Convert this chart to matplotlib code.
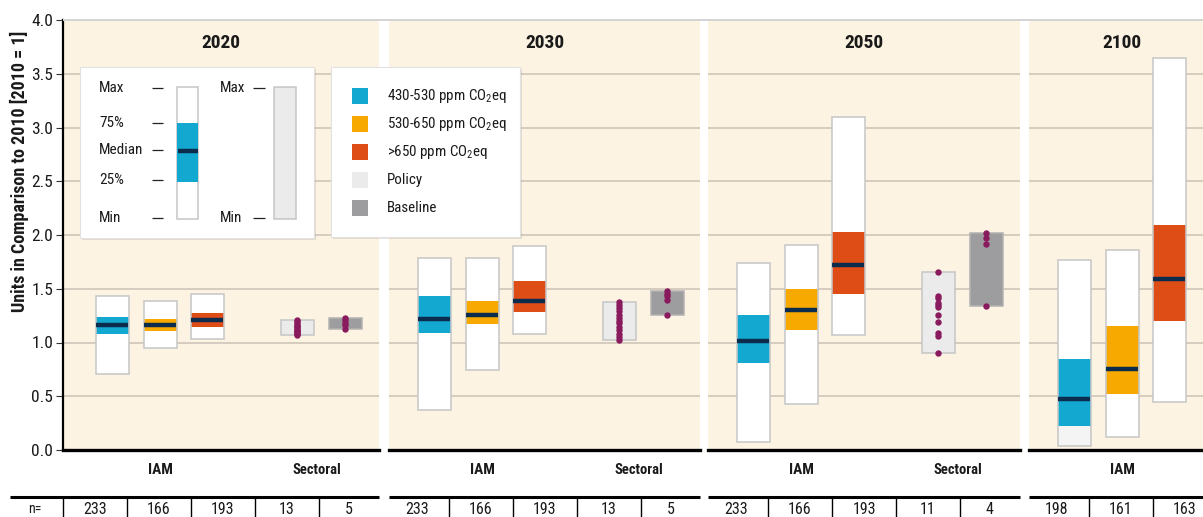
import matplotlib
matplotlib.use("Agg")
import matplotlib.pyplot as plt
import numpy as np
from matplotlib import font_manager
from matplotlib.patches import Rectangle

# pick a condensed sans face if one is installed
_entries = font_manager.fontManager.ttflist
_names = {f.name for f in _entries}
_narrow = [f.name for f in _entries if str(f.stretch) in ("condensed", "semi-condensed", "extra-condensed")]
FONT = None
for cand in ["Liberation Sans Narrow", "Roboto Condensed", "Open Sans Condensed", "DejaVu Sans"]:
    if cand in _names and (cand != "DejaVu Sans" or "DejaVu Sans" in _narrow):
        FONT = cand
        break
if FONT is None:
    FONT = "Roboto"
plt.rcParams["font.family"] = [FONT, "DejaVu Sans"]
if FONT == "DejaVu Sans":
    plt.rcParams["font.stretch"] = "condensed"
plt.rcParams["mathtext.fontset"] = "custom"
plt.rcParams["mathtext.rm"] = FONT
plt.rcParams["mathtext.it"] = FONT

# ---------------------------------------------------------------- data ----
years = ["2020", "2030", "2050", "2100"]
scenario_labels = ["430-530 ppm CO$_2$eq", "530-650 ppm CO$_2$eq", ">650 ppm CO$_2$eq"]

# IAM box statistics per year, one value per concentration category
iam_max = [[1.43, 1.39, 1.45], [1.79, 1.79, 1.90], [1.74, 1.91, 3.10], [1.77, 1.86, 3.65]]
iam_q75 = [[1.24, 1.22, 1.27], [1.43, 1.39, 1.57], [1.26, 1.50, 2.03], [0.85, 1.15, 2.09]]
iam_med = [[1.16, 1.16, 1.21], [1.22, 1.26, 1.39], [1.01, 1.30, 1.72], [0.47, 0.75, 1.59]]
iam_q25 = [[1.08, 1.11, 1.14], [1.09, 1.17, 1.28], [0.81, 1.12, 1.45], [0.22, 0.52, 1.20]]
iam_min = [[0.71, 0.95, 1.03], [0.37, 0.74, 1.08], [0.07, 0.43, 1.07], [0.04, 0.12, 0.45]]

# sectoral studies: individual results (no sectoral data for 2100)
policy_points = [
    [1.07, 1.08, 1.09, 1.10, 1.11, 1.12, 1.13, 1.14, 1.15, 1.16, 1.18, 1.20, 1.21],
    [1.02, 1.05, 1.08, 1.12, 1.14, 1.18, 1.20, 1.23, 1.26, 1.29, 1.32, 1.35, 1.38],
    [0.90, 1.06, 1.09, 1.19, 1.26, 1.33, 1.35, 1.37, 1.41, 1.43, 1.66],
    [],
]
baseline_points = [
    [1.13, 1.16, 1.18, 1.21, 1.23],
    [1.26, 1.40, 1.43, 1.45, 1.48],
    [1.34, 1.92, 1.97, 2.02],
    [],
]
n_counts = [
    [233, 166, 193, 13, 5],
    [233, 166, 193, 13, 5],
    [233, 166, 193, 11, 4],
    [198, 161, 163],
]

# ---------------------------------------------------------------- style ---
BLUE, ORANGE, RED = "#12a8cf", "#f7a900", "#df4d17"
SCEN_COLORS = [BLUE, ORANGE, RED]
NAVY = "#0c2c4e"
POLICY = "#ebebeb"
BASELINE = "#9d9d9f"
DOT = "#8a1a5e"
BG = "#fdf3e2"
GRID = "#cbc2b6"
EDGE = "#c6c6c6"
TXT = "#1a1a1a"

W, H = 1203, 517
fig = plt.figure(figsize=(W / 100, H / 100), dpi=100)

# panel geometry in pixels
panel_left = [63, 389, 708, 1029]
panel_width = [316, 311, 312, 185]
panel_pad = [4, 0, 0, 0]
TOP, BOTTOM = 20, 450
iam_x = [45, 93, 140]
sect_x = [230, 278]
bar_w = 33
n_sep = [60, 124, 188, 252]
n_txt = [28, 92, 156, 220, 282]


def px_axes(left, top, width, height, **kw):
    return fig.add_axes([left / W, 1 - (top + height) / H, width / W, height / H], **kw)


def draw_box(ax, x, lo, hi, face, edge=EDGE, z=2):
    ax.bar(x, hi - lo, bottom=lo, width=bar_w, color=face, edgecolor="none", zorder=z)
    ax.bar(x, hi - lo, bottom=lo, width=bar_w, color="none", edgecolor=edge,
           linewidth=1.1, zorder=z + 2)


for i, year in enumerate(years):
    ax = px_axes(panel_left[i], TOP, panel_width[i], BOTTOM - TOP)
    ax.set_xlim(-panel_pad[i], panel_width[i] - panel_pad[i])
    ax.set_ylim(0, 4)
    ax.set_facecolor(BG)
    for v in np.arange(0.5, 4.0, 0.5):
        ax.axhline(v, color=GRID, lw=1.1, zorder=0.5)

    for s in ["top", "right", "left"]:
        ax.spines[s].set_visible(False)
    ax.spines["bottom"].set_linewidth(2.4)
    ax.spines["bottom"].set_color("black")
    ax.set_xticks([])

    if i == 0:
        ax.spines["left"].set_visible(True)
        ax.spines["left"].set_linewidth(1.6)
        ticks = np.arange(0, 4.01, 0.5)
        ax.set_yticks(ticks)
        ax.set_yticklabels([f"{t:.1f}" for t in ticks], fontsize=12.5, color=TXT)
        ax.tick_params(axis="y", length=5, width=0.8, color="#333333", pad=2)
    else:
        ax.set_yticks([])

    ax.text(0.5, 0.9465, year, transform=ax.transAxes, ha="center", va="center",
            fontsize=14, fontweight="bold", color=TXT)

    # IAM ranges
    for j in range(3):
        x = iam_x[j]
        lower_face = "#f4f4f4" if (i == 3 and j == 0) else "white"
        ax.bar(x, iam_q25[i][j] - iam_min[i][j], bottom=iam_min[i][j], width=bar_w,
               color=lower_face, edgecolor="none", zorder=2)
        ax.bar(x, iam_max[i][j] - iam_q75[i][j], bottom=iam_q75[i][j], width=bar_w,
               color="white", edgecolor="none", zorder=2)
        ax.bar(x, iam_q75[i][j] - iam_q25[i][j], bottom=iam_q25[i][j], width=bar_w,
               color=SCEN_COLORS[j], edgecolor="none", zorder=3)
        ax.bar(x, iam_max[i][j] - iam_min[i][j], bottom=iam_min[i][j], width=bar_w,
               color="none", edgecolor=EDGE, linewidth=1.1, zorder=4)
        ax.hlines(iam_med[i][j], x - bar_w / 2 + 0.6, x + bar_w / 2 - 0.6,
                  color=NAVY, lw=3.2, zorder=5)

    # sectoral ranges with individual studies
    for pts, face, x in [(policy_points[i], POLICY, sect_x[0]),
                         (baseline_points[i], BASELINE, sect_x[1])]:
        if not pts:
            continue
        edge = EDGE if face == POLICY else "#b3b3b3"
        draw_box(ax, x, min(pts), max(pts), face, edge)
        ax.plot([x] * len(pts), pts, "o", color=DOT, ms=4.6, mec="none", zorder=6)

# overlay in pixel coordinates for labels, table and legends
ov = fig.add_axes([0, 0, 1, 1], zorder=10)
ov.set_xlim(0, W)
ov.set_ylim(H, 0)
ov.axis("off")
ov.patch.set_alpha(0)

ov.hlines(TOP, panel_left[0], W, color="#d4d4d4", lw=1.4)

fig.text(19 / W, 1 - 171 / H, "Units in Comparison to 2010 [2010 = 1]", rotation=90,
         ha="center", va="center", fontsize=13, fontweight="bold", color=TXT)

for i in range(len(years)):
    origin = panel_left[i] + panel_pad[i]
    ov.text(origin + iam_x[1], 470, "IAM", ha="center", va="center",
            fontsize=11, fontweight="bold", color=TXT)
    if policy_points[i]:
        ov.text(origin + 250, 470, "Sectoral",
                ha="center", va="center", fontsize=10.5, fontweight="bold", color=TXT)

    x0 = 10 if i == 0 else panel_left[i]
    ov.hlines(497, x0, panel_left[i] + panel_width[i], color="black", lw=2.2)
    counts = n_counts[i]
    for k in range(len(counts) - 1):
        xs = origin + n_sep[k]
        ov.vlines(xs, 497, H + 2, color="black", lw=1.0)
    for k, n in enumerate(counts):
        ov.text(origin + n_txt[k], 509, str(n), ha="center", va="center",
                fontsize=11.5, color=TXT)

ov.vlines(panel_left[0], 497, H + 2, color="black", lw=1.0)
ov.text(35, 509, "n=", ha="center", va="center", fontsize=10, color=TXT)

# legend: box-plot explanation
ov.add_patch(Rectangle((82, 69), 234, 171, fc="black", ec="none", alpha=0.10, zorder=1))
ov.add_patch(Rectangle((80, 67), 234, 171, fc="white", ec="#e2e2e2", lw=0.8, zorder=2))
for lab, y in [("Max", 88), ("75%", 123), ("Median", 150), ("25%", 180), ("Min", 218)]:
    ov.text(99, y, lab, ha="left", va="center", fontsize=11, color=TXT, zorder=3)
    ov.hlines(y, 152, 163, color="#222222", lw=0.9, zorder=3)
ov.add_patch(Rectangle((177, 87), 21, 132, fc="white", ec=EDGE, lw=1.1, zorder=3))
ov.add_patch(Rectangle((177, 123), 21, 59, fc=BLUE, ec="none", zorder=4))
ov.hlines(151, 177.5, 197.5, color=NAVY, lw=3.2, zorder=5)
for lab, y in [("Max", 88), ("Min", 218)]:
    ov.text(220, y, lab, ha="left", va="center", fontsize=11, color=TXT, zorder=3)
    ov.hlines(y, 253, 265, color="#222222", lw=0.9, zorder=3)
ov.add_patch(Rectangle((274, 87), 22, 132, fc=POLICY, ec=EDGE, lw=1.1, zorder=3))

# legend: colour key
ov.add_patch(Rectangle((333, 69), 189, 170, fc="black", ec="none", alpha=0.10, zorder=1))
ov.add_patch(Rectangle((331, 67), 189, 170, fc="white", ec="#e2e2e2", lw=0.8, zorder=2))
key_labels = scenario_labels + ["Policy", "Baseline"]
key_colors = SCEN_COLORS + [POLICY, BASELINE]
for k, (lab, col) in enumerate(zip(key_labels, key_colors)):
    yc = 96 + 28 * k
    ov.add_patch(Rectangle((352, yc - 8), 16, 16, fc=col, ec="none", zorder=3))
    ov.text(387, yc, lab, ha="left", va="center", fontsize=10.8, color=TXT, zorder=3)

fig.savefig("out.png", dpi=100)
